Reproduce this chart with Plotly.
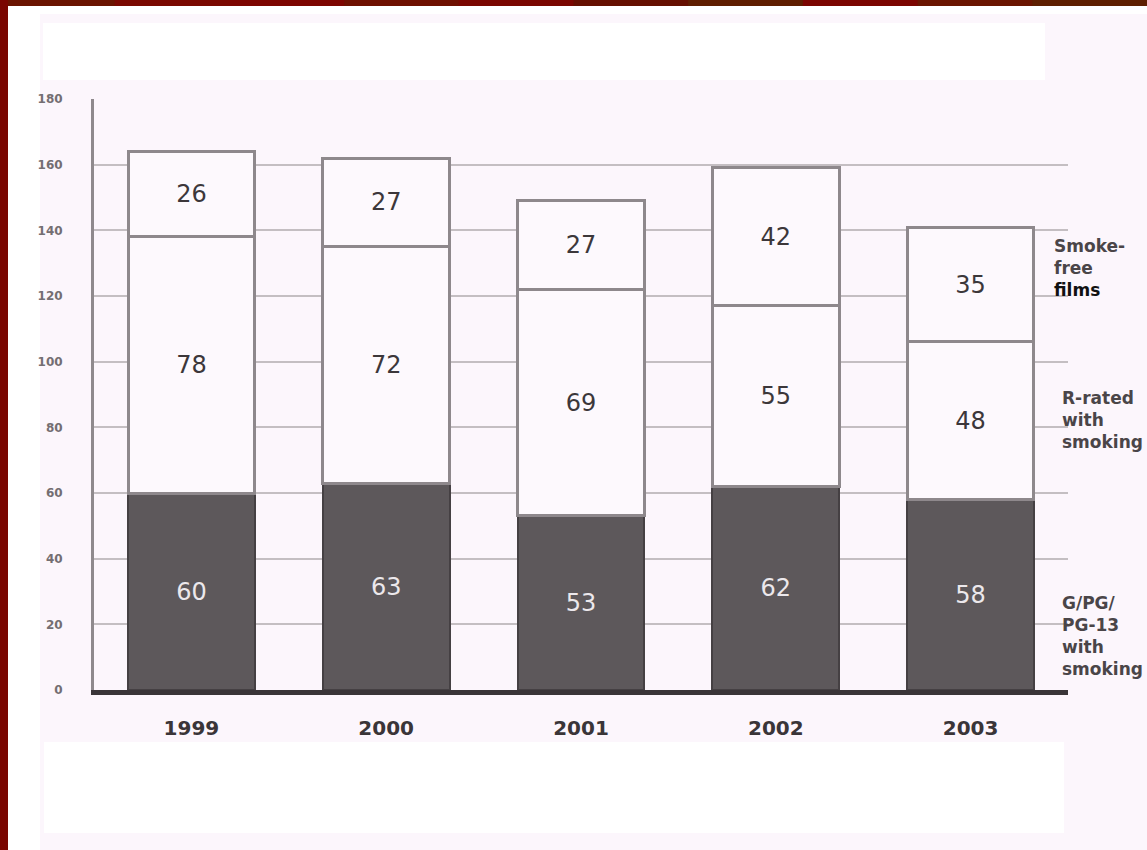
import plotly.graph_objects as go

# Films per year, split by rating / smoking content
years = ["1999", "2000", "2001", "2002", "2003"]
youth_rated_smoking = [60, 63, 53, 62, 58]   # G/PG/PG-13 with smoking
r_rated_smoking = [78, 72, 69, 55, 48]       # R-rated with smoking
smoke_free = [26, 27, 27, 42, 35]            # smoke-free films
y_ticks = [0, 20, 40, 60, 80, 100, 120, 140, 160, 180]

W, H = 1147, 850
ML, MR, MT, MB = 94, 79, 99, 160
PW, PH = W - ML - MR, H - MT - MB


def fx(x):
    return (x - ML) / PW


def fy(y):
    return (H - MB - y) / PH


def rect(x0, y0, x1, y1, color):
    return dict(type="rect", xref="paper", yref="paper",
                x0=fx(x0), x1=fx(x1), y0=fy(y1), y1=fy(y0),
                fillcolor=color, line=dict(width=0), layer="below")


DARK = "#5d585b"
LIGHT = "#fdf9fd"
EDGE = "#8e888c"
TXT = "#3c373a"
FONT = "DejaVu Sans"

fig = go.Figure()
fig.add_trace(go.Bar(
    x=years, y=youth_rated_smoking, name="G/PG/PG-13 with smoking",
    marker=dict(color=DARK, line=dict(color="#454043", width=2)),
    text=youth_rated_smoking, textposition="inside", insidetextanchor="middle",
    insidetextfont=dict(family=FONT, size=24, color="#ece8ec"),
))
fig.add_trace(go.Bar(
    x=years, y=r_rated_smoking, name="R-rated with smoking",
    marker=dict(color=LIGHT, line=dict(color=EDGE, width=3)),
    text=r_rated_smoking, textposition="inside", insidetextanchor="middle",
    insidetextfont=dict(family=FONT, size=24, color=TXT),
))
fig.add_trace(go.Bar(
    x=years, y=smoke_free, name="Smoke-free films",
    marker=dict(color=LIGHT, line=dict(color=EDGE, width=3)),
    text=smoke_free, textposition="inside", insidetextanchor="middle",
    insidetextfont=dict(family=FONT, size=24, color=TXT),
))

shapes = [
    # pale page panel and its white inner strips
    rect(40, 14, W, H, "#fcf6fc"),
    rect(43, 23, 1045, 80, "#ffffff"),
    rect(44, 742, 1064, 833, "#ffffff"),
]
# dark red frame along the top and left edges
top_cols = ["#6a1400", "#7a0800", "#7d0500", "#6e1000", "#7a0600",
            "#650f00", "#5f1e00", "#7b0500", "#6a1500", "#5e1f00"]
seg = W / len(top_cols)
for i, c in enumerate(top_cols):
    shapes.append(rect(i * seg, 0, (i + 1) * seg + 1, 6, c))
shapes.append(rect(0, 0, 8, H, "#7a0600"))

side_labels = [
    ("Smoke-<br>free<br><span style='color:#111'>films</span>", 1052, 268),
    ("R-rated<br>with<br>smoking", 1060, 420),
    ("G/PG/<br>PG-13<br>with<br>smoking", 1060, 636),
]
annotations = [
    dict(text=t, xref="paper", yref="paper", x=fx(x), y=fy(y),
         xanchor="left", yanchor="middle", align="left", showarrow=False,
         font=dict(family=FONT, size=17, color="#4a4548", weight="bold"))
    for t, x, y in side_labels
]

fig.update_layout(
    width=W, height=H,
    margin=dict(l=ML, r=MR, t=MT, b=MB, pad=0),
    barmode="stack", bargap=0.35,
    paper_bgcolor="#ffffff", plot_bgcolor="rgba(0,0,0,0)",
    showlegend=False, shapes=shapes, annotations=annotations,
)
fig.update_xaxes(
    showline=True, linecolor="#3a3538", linewidth=5, showgrid=False,
    ticks="", ticklabelstandoff=16,
    tickfont=dict(family=FONT, size=20, color="#3a3538", weight="bold"),
)
fig.update_yaxes(
    range=[0, 180], tickvals=y_ticks, showline=True, linecolor="#8f898d",
    linewidth=3, showgrid=True, gridcolor="#c4bec2", gridwidth=2,
    zeroline=False, ticks="", ticklabelstandoff=26,
    tickfont=dict(family=FONT, size=12, color="#746e72", weight="bold"),
)

fig.write_html("out.html")
